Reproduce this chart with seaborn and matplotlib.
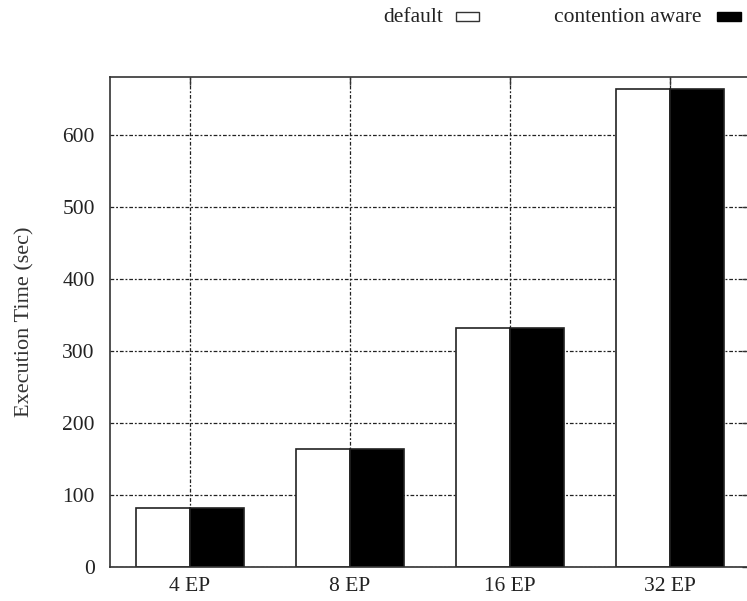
import matplotlib
matplotlib.use("Agg")
import matplotlib.pyplot as plt
import seaborn as sns
import pandas as pd
from matplotlib.patches import Rectangle

categories = ["4 EP", "8 EP", "16 EP", "32 EP"]
default_vals = [82, 164, 331, 664]
aware_vals = [82, 164, 331, 664]
series_names = ["default", "contention aware"]
yticks = [0, 100, 200, 300, 400, 500, 600]

df = pd.DataFrame({
    "cat": categories * 2,
    "val": default_vals + aware_vals,
    "series": [series_names[0]] * 4 + [series_names[1]] * 4,
})

sns.set_style("white")
plt.rcParams["font.family"] = ["Liberation Serif", "DejaVu Serif"]

W, H = 747, 601
fig = plt.figure(figsize=(W / 100, H / 100), dpi=100)
ax = fig.add_axes([110 / W, (H - 567) / H, 640 / W, (567 - 77) / H])

sns.barplot(data=df, x="cat", y="val", hue="series", order=categories,
            hue_order=series_names, palette=["white", "black"],
            edgecolor="#222222", linewidth=1.2, width=0.68, ax=ax,
            legend=False, saturation=1)

ax.set_xlim(-0.5, 3.5)
ax.set_ylim(0, 680)
ax.set_yticks(yticks)
ax.set_xlabel("")
ax.set_ylabel("Execution Time (sec)", fontsize=16, color="#333333", labelpad=20)
ax.tick_params(axis="both", direction="in", length=6, width=1, colors="#333333",
               labelsize=15.5, top=True, right=True)
ax.tick_params(axis="x", pad=7)
ax.tick_params(axis="y", pad=11)
for lbl in ax.get_xticklabels() + ax.get_yticklabels():
    lbl.set_color("#222222")

ax.set_axisbelow(True)
ax.grid(True, color="#222222", linestyle=(0, (3, 1.5, 1.5, 1.5)), linewidth=0.9)
for s in ax.spines.values():
    s.set_color("#333333")
    s.set_linewidth(1.2)

# legend
ty = 1 - 17 / H
fig.text(443 / W, ty, series_names[0], ha="right", va="center", fontsize=15.5, color="#222222")
fig.patches.append(Rectangle((456 / W, 1 - 21 / H), 23 / W, 9 / H, transform=fig.transFigure,
                             facecolor="white", edgecolor="#333333", linewidth=1))
fig.text(702 / W, ty, series_names[1], ha="right", va="center", fontsize=15.5, color="#222222")
fig.patches.append(Rectangle((717 / W, 1 - 21 / H), 24 / W, 9 / H, transform=fig.transFigure,
                             facecolor="black", edgecolor="black", linewidth=1))

fig.savefig("out.png", dpi=100)
